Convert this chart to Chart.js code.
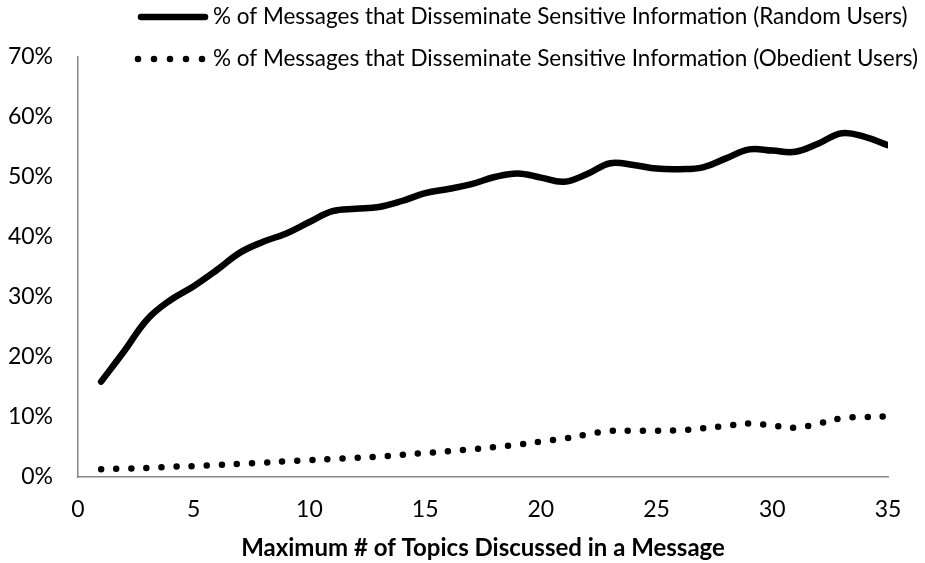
<!DOCTYPE html>
<html>
<head>
<meta charset="utf-8">
<script src="https://cdn.jsdelivr.net/npm/chart.js@4"></script>
<style>
  html, body { margin: 0; padding: 0; background: #fff; }
  #wrap { width: 925px; height: 563px; position: relative; }
</style>
</head>
<body>
<div id="wrap"><canvas id="c" width="925" height="563"></canvas></div>
<script>
const topics = [1,2,3,4,5,6,7,8,9,10,11,12,13,14,15,16,17,18,19,20,21,22,23,24,25,26,27,28,29,30,31,32,33,34,35];
const randomUsers = [15.9,21.0,26.3,29.5,31.8,34.5,37.4,39.2,40.6,42.5,44.3,44.7,45.0,46.0,47.3,48.0,48.8,50.0,50.6,49.9,49.2,50.5,52.3,52.0,51.4,51.3,51.6,53.1,54.6,54.4,54.2,55.6,57.3,56.7,55.3];
const obedientUsers = [1.3,1.4,1.5,1.7,1.8,2.0,2.2,2.4,2.6,2.8,3.0,3.2,3.4,3.7,4.0,4.3,4.6,5.0,5.4,5.9,6.4,7.1,7.7,7.7,7.7,7.8,8.1,8.5,8.9,8.6,8.2,8.9,9.8,10.0,10.1];
const seriesLabels = [
  "% of Messages that Disseminate Sensitive Information (Random Users)",
  "% of Messages that Disseminate Sensitive Information (Obedient Users)"
];
const xTitle = "Maximum # of Topics Discussed in a Message";
const FONT = "Lato, 'Open Sans', sans-serif";

const legendPlugin = {
  id: 'customLegend',
  afterDraw(chart) {
    const ctx = chart.ctx;
    ctx.save();
    ctx.strokeStyle = '#000';
    ctx.lineCap = 'round';
    // row 1: solid
    ctx.lineWidth = 6.5;
    ctx.beginPath(); ctx.moveTo(141, 17); ctx.lineTo(205, 17); ctx.stroke();
    // row 2: dots
    ctx.lineWidth = 6.5;
    ctx.setLineDash([0, 16]);
    ctx.beginPath(); ctx.moveTo(138, 59); ctx.lineTo(204, 59); ctx.stroke();
    ctx.setLineDash([]);
    ctx.fillStyle = '#000';
    ctx.font = '22.5px ' + FONT;
    ctx.textBaseline = 'middle';
    ctx.textAlign = 'left';
    ctx.fillText(seriesLabels[0], 213, 17);
    ctx.fillText(seriesLabels[1], 213, 59);
    ctx.restore();
  }
};

new Chart(document.getElementById('c'), {
  type: 'line',
  data: {
    datasets: [
      {
        label: seriesLabels[0],
        data: topics.map((t, i) => ({ x: t, y: randomUsers[i] / 100 })),
        borderColor: '#000',
        borderWidth: 6.5,
        borderCapStyle: 'round',
        borderJoinStyle: 'round',
        tension: 0.4,
        pointRadius: 0,
        fill: false
      },
      {
        label: seriesLabels[1],
        data: topics.map((t, i) => ({ x: t, y: obedientUsers[i] / 100 })),
        borderColor: '#000',
        borderWidth: 6.5,
        borderDash: [0, 15.1],
        borderCapStyle: 'round',
        tension: 0.4,
        pointRadius: 0,
        fill: false
      }
    ]
  },
  options: {
    responsive: false,
    animation: false,
    layout: { padding: { top: 57, right: 37, bottom: 0, left: 0 } },
    plugins: { legend: { display: false }, tooltip: { enabled: false } },
    scales: {
      x: {
        type: 'linear',
        min: 0, max: 35,
        grid: { display: false, drawTicks: false },
        border: { color: '#868686', width: 1.5 },
        ticks: { stepSize: 5, color: '#000', padding: 19, font: { family: FONT, size: 23 } },
        title: { display: true, text: xTitle, color: '#000', padding: 0, font: { family: FONT, size: 24, weight: 'bold' } },
        afterFit(s) { s.height = 86; }
      },
      y: {
        min: 0, max: 0.7,
        grid: { display: false, drawTicks: false },
        border: { color: '#868686', width: 1.5 },
        ticks: { stepSize: 0.1, color: '#000', padding: 25, font: { family: FONT, size: 23 },
                 callback: v => Math.round(v * 100) + '%' },
        afterFit(s) { s.width = 78; }
      }
    }
  },
  plugins: [legendPlugin]
});
</script>
</body>
</html>
